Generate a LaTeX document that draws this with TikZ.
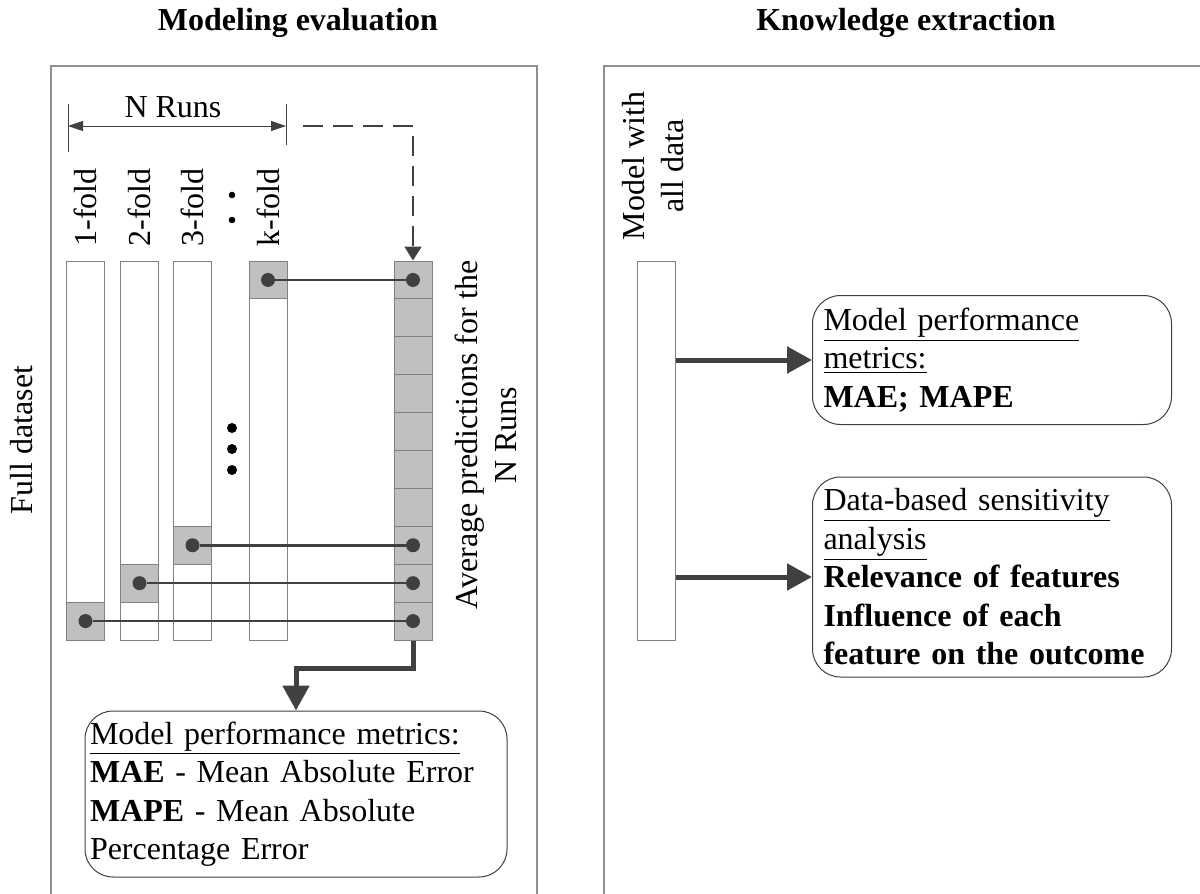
\documentclass[tikz,border=0pt]{standalone}
\usepackage{fontspec}
\setmainfont{Liberation Serif}
\usetikzlibrary{arrows.meta,positioning}
\definecolor{ink}{HTML}{404040}
\definecolor{cell}{HTML}{C0C0C0}
\definecolor{rim}{HTML}{808080}
\definecolor{frame}{HTML}{8F8F8F}
\newcommand{\bodysize}{\fontsize{16}{19.25}\selectfont}

\tikzset{
  fold/.style={draw=rim,fill=white,line width=0.5pt,minimum width=19pt,minimum height=189.5pt,inner sep=0pt},
  hit/.style={draw=rim,fill=cell,line width=0.5pt,minimum width=19pt,minimum height=18.95pt,inner sep=0pt},
  dot/.style={circle,fill=ink,inner sep=0pt,minimum size=7pt},
  link/.style={draw=ink,line width=1.3pt},
  fat/.style={draw=ink,line width=2.5pt,-{Triangle[length=12.5pt,width=13pt]}},
  metric/.style={draw=ink,rounded corners=14pt,line width=0.5pt,align=left,inner ysep=0pt},
  vlabel/.style={rotate=90,inner sep=0pt},
}

\begin{document}
\begin{tikzpicture}[x=0.5pt,y=-0.5pt,font=\bodysize,>={Triangle[length=7.5pt,width=5pt]}]
\clip (0,0) rectangle (1200,894);
% the two panels, open at the bottom
\draw[frame,line width=0.75pt] (51,66) rectangle (537,920);
\draw[frame,line width=0.75pt] (604,66) rectangle (1215,920);
\node[font=\bodysize\bfseries,anchor=base] (titleL) at (298,30) {Modeling evaluation};
\node[font=\bodysize\bfseries,anchor=base] (titleR) at (906,30) {Knowledge extraction};

% cross-validation folds
\node[vlabel] (fulllbl) at (22,440) {Full dataset};
\foreach \x/\c/\n in {85.5/9/1,139.5/8/2,192.5/7/3,268/0/k}{
  \node[fold] (f\n) at (\x,450.5) {};
  \node[hit] (h\n) at (\x,279.95+37.9*\c) {};
  \node[dot] (d\n) at (h\n) {};
  \node[vlabel,anchor=west] (l\n) at (\x,247) {\n-fold};
}
\node[dot,minimum size=3.3pt,fill=black] (vd1) at (232,195) {};
\node[dot,minimum size=3.3pt,fill=black] (vd2) at (232,220) {};
\foreach \y/\n in {428/1,449/2,470/3}
  \node[dot,minimum size=5pt,fill=black] (md\n) at (232,\y) {};

% averaged predictions
\foreach \i in {0,...,9}
  \node[hit] (a\i) at (413,279.95+37.9*\i) {};
\foreach \i in {0,7,8,9}
  \node[dot] (e\i) at (a\i) {};
\foreach \n/\i in {k/0,3/7,2/8,1/9}
  \draw[link] (d\n) -- (e\i);
\node[vlabel,align=center] (avglbl) at (486,435) {Average predictions for the\\N Runs};

% N runs span
\coordinate (nl) at (68,126);
\coordinate (nr) at (286,126);
\draw[ink,line width=0.5pt] (68,104) -- (68,152) (286,104) -- (286,145);
\draw[ink,line width=0.5pt,<->] (nl) -- (nr);
\node[anchor=base] (nruns) at (173,117) {N Runs};
\draw[ink,line width=1pt,dash pattern=on 10pt off 5pt,-{Triangle[length=7pt,width=8.5pt]}] (303,126) -| (a0.north);

\node[metric,inner xsep=2.5pt,text width=206pt,minimum height=83pt] (mbox) at (296,794)
  {\underline{Model performance metrics:}\\\textbf{MAE} - Mean Absolute Error\\\textbf{MAPE} - Mean Absolute\\Percentage Error};
\draw[fat] (a9.south) -- ++(0,28) -| (mbox.north);

% model trained on everything
\node[vlabel,align=center] (alllbl) at (653,166) {Model with\\all data};
\node[fold] (full) at (656,451) {};
\node[metric,anchor=west,inner xsep=5.5pt,text width=168.5pt,minimum height=64.5pt] (perf) at (812,360)
  {\underline{Model performance}\\\underline{metrics:}\\\textbf{MAE; MAPE}};
\node[metric,anchor=west,inner xsep=5.5pt,text width=168.5pt,minimum height=100pt] (sens) at (812,577)
  {\underline{Data-based sensitivity}\\\underline{analysis}\\\textbf{Relevance of features}\\\textbf{Influence of each}\\\textbf{feature on the outcome}};
\draw[fat] (full.east |- perf.west) -- (perf.west);
\draw[fat] (full.east |- sens.west) -- (sens.west);
\end{tikzpicture}
\end{document}
